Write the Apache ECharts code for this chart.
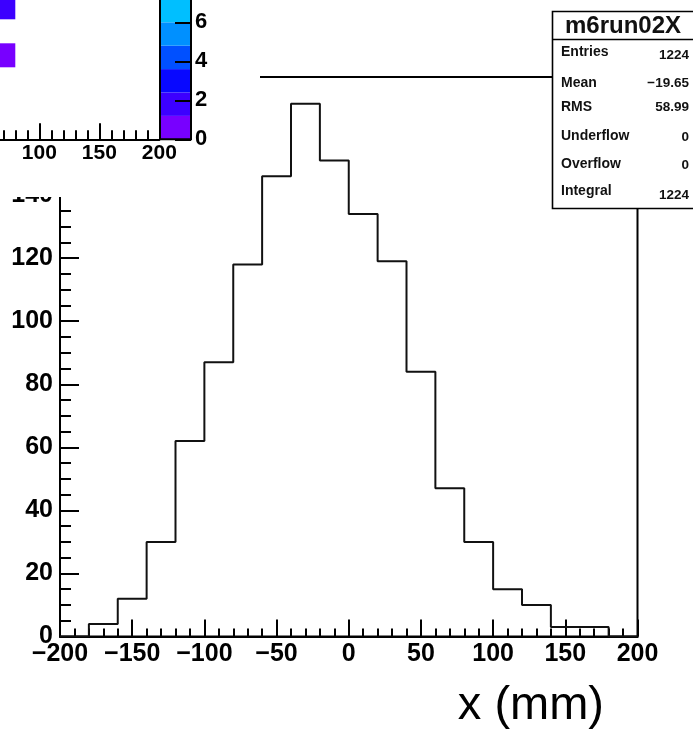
<!DOCTYPE html>
<html><head><meta charset="utf-8">
<script src="https://cdn.jsdelivr.net/npm/echarts@6/dist/echarts.min.js"></script>
<style>html,body{margin:0;padding:0;background:#fff}#c{width:693px;height:730px}</style>
</head><body><div id="c"></div>
<script>
// ---- main histogram data ----
const binStarts = [-200,-180,-160,-140,-120,-100,-80,-60,-40,-20,0,20,40,60,80,100,120,140,160,180];
const binWidth = 20;
const counts = [0,4,12,30,62,87,118,146,169,151,134,119,84,47,30,15,10,3,3,0];
const histName = 'm6run02X';
const xTitle = 'x (mm)';
const statNames = ['Entries','Mean','RMS','Underflow','Overflow','Integral'];
const statValues = ['1224','\u221219.65','58.99','0','0','1224'];
// ---- inset (2D histogram corner) data ----
const insetCells = [[60,80,60,80,1],[60,80,100,120,2]]; // xLow,xHigh,yLow,yHigh,value
const paletteEdges = [0,1.2,2.4,3.6,4.8,6.0,7.8];
const paletteColors = ['#7800ff','#3c00ff','#0808ff','#0050ff','#0090ff','#00bfff'];

const FONT = '"Liberation Sans", Arial, Helvetica, sans-serif';
const minus = v => String(v).replace('-', '\u2212');

const histPoints = binStarts.map((x,i)=>[x, counts[i]]);
histPoints.push([binStarts[binStarts.length-1]+binWidth, counts[counts.length-1]]);
const yMax = Math.max(...counts)*1.05;

function colorFor(v){
  for (let i=0;i<paletteColors.length;i++){ if (v < paletteEdges[i+1]) return paletteColors[i]; }
  return paletteColors[paletteColors.length-1];
}
const bandData = paletteColors.map((c,i)=>[paletteEdges[i], paletteEdges[i+1], i]);

const chart = echarts.init(document.getElementById('c'), null, {renderer:'canvas'});
const black = '#000';
chart.setOption({
  animation:false,
  backgroundColor:'#fff',
  grid:[
    {left:60, right:55.5, top:77, bottom:93.5, show:true, borderColor:black, borderWidth:2, backgroundColor:'transparent', outerBoundsMode:'none', containLabel:false},
    {left:-80.7, width:240, top:0, height:139.3, show:false, zlevel:2, outerBoundsMode:'none', containLabel:false},
    {left:160, width:31, top:-10, height:149.3, show:true, borderColor:black, borderWidth:2, backgroundColor:'transparent', zlevel:2, z:10, outerBoundsMode:'none', containLabel:false}
  ],
  xAxis:[
    {gridIndex:0, type:'value', min:-200, max:200, interval:50,
     axisLine:{show:true, onZero:false, lineStyle:{color:black, width:2}},
     axisTick:{show:true, inside:true, length:17, lineStyle:{color:black, width:2}},
     minorTick:{show:true, splitNumber:5, length:8, lineStyle:{color:black, width:2}},
     splitLine:{show:false},
     axisLabel:{margin:5, color:black, fontSize:25, fontWeight:'bold', fontFamily:FONT, formatter:minus}},
    {gridIndex:1, type:'value', min:0, max:200, interval:50, zlevel:2,
     axisLine:{show:true, onZero:false, lineStyle:{color:black, width:2}},
     axisTick:{show:true, inside:true, length:16, lineStyle:{color:black, width:2}},
     minorTick:{show:true, splitNumber:5, length:9, lineStyle:{color:black, width:2}},
     splitLine:{show:false},
     axisLabel:{margin:3, color:black, fontSize:21, fontWeight:'bold', fontFamily:FONT, formatter:minus}},
    {gridIndex:2, type:'value', min:0, max:1, show:false, zlevel:2, axisLine:{onZero:false}}
  ],
  yAxis:[
    {gridIndex:0, type:'value', min:0, max:yMax, interval:20,
     axisLine:{show:true, onZero:false, lineStyle:{color:black, width:2}},
     axisTick:{show:true, inside:true, length:19, lineStyle:{color:black, width:2}},
     minorTick:{show:true, splitNumber:4, length:11, lineStyle:{color:black, width:2}},
     splitLine:{show:false},
     axisLabel:{margin:7, color:black, fontSize:25, fontWeight:'bold', fontFamily:FONT, showMaxLabel:false}},
    {gridIndex:1, type:'value', min:0, max:139.3/1.2, show:false, zlevel:2, axisLine:{onZero:false}},
    {gridIndex:2, type:'value', min:0, max:149.3/19.5, interval:2, position:'right', zlevel:2, z:10,
     axisLine:{show:false, onZero:false},
     axisTick:{show:true, inside:true, length:16, lineStyle:{color:black, width:2}},
     splitLine:{show:false},
     axisLabel:{margin:4, color:black, fontSize:22, fontWeight:'bold', fontFamily:FONT, showMaxLabel:false}}
  ],
  series:[
    {type:'line', xAxisIndex:0, yAxisIndex:0, data:histPoints, step:'end', symbol:'none',
     lineStyle:{color:'#111', width:2}, z:3},
    {type:'custom', xAxisIndex:1, yAxisIndex:1, zlevel:2, data:insetCells,
     renderItem:(params, api)=>{
       const p0 = api.coord([api.value(0), api.value(3)]);
       const p1 = api.coord([api.value(1), api.value(2)]);
       return {type:'rect', shape:{x:p0[0], y:p0[1], width:p1[0]-p0[0], height:p1[1]-p0[1]},
               style:{fill:colorFor(api.value(4))}};
     }},
    {type:'custom', xAxisIndex:2, yAxisIndex:2, zlevel:2, data:bandData, z:1,
     renderItem:(params, api)=>{
       const p0 = api.coord([0, api.value(1)]);
       const p1 = api.coord([1, api.value(0)]);
       return {type:'rect', shape:{x:p0[0], y:p0[1], width:p1[0]-p0[0], height:p1[1]-p0[1]},
               style:{fill:paletteColors[api.value(2)]}};
     }}
  ],
  graphic:[
    {type:'rect', zlevel:1, shape:{x:0, y:0, width:260, height:197}, style:{fill:'#fff'}},
    {type:'rect', zlevel:1, shape:{x:552.5, y:11.5, width:200, height:197}, style:{fill:'#fff', stroke:black, lineWidth:1.6}},
    {type:'line', zlevel:1, shape:{x1:552.5, y1:39.5, x2:693, y2:39.5}, style:{stroke:black, lineWidth:1.6}},
    {type:'text', zlevel:1, style:{text:histName, x:623, y:26.5, align:'center', verticalAlign:'middle',
      font:'bold 24px '+FONT, fill:'#111'}},
    ...statNames.map((n,i)=>({type:'text', zlevel:1, style:{text:n, x:561, y:[51.7,83.3,107.3,136,164,190.7][i],
      align:'left', verticalAlign:'middle', font:'bold 14px '+FONT, fill:'#111'}})),
    ...statValues.map((v,i)=>({type:'text', zlevel:1, style:{text:v, x:689, y:[55,83.3,107.3,137,165,195][i],
      align:'right', verticalAlign:'middle', font:'bold 13.5px '+FONT, fill:'#111'}})),
    {type:'text', zlevel:1, style:{text:xTitle, x:604, y:706, align:'right', verticalAlign:'middle',
      font:'47px '+FONT, fill:'#000'}}
  ]
});
</script>
</body></html>
